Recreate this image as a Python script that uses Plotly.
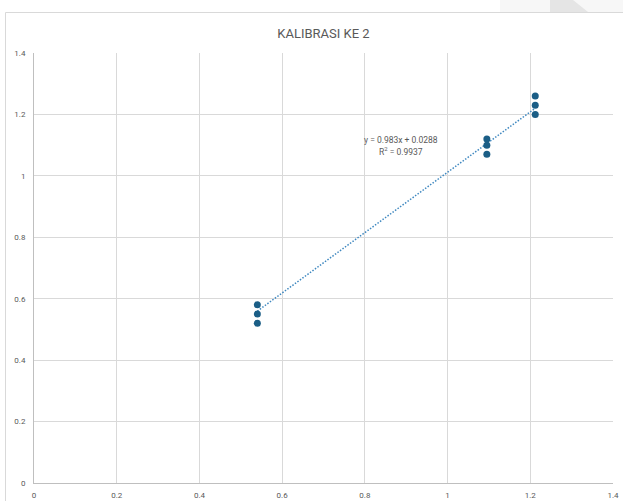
import plotly.graph_objects as go

# Data
x_vals = [0.54, 0.54, 0.54, 1.095, 1.095, 1.095, 1.212, 1.212, 1.212]
y_vals = [0.58, 0.55, 0.52, 1.12, 1.10, 1.07, 1.26, 1.23, 1.20]
slope = 0.983
intercept = 0.0288
r2 = 0.9937
title_text = "KALIBRASI KE 2"

W, H = 623, 501
L, R, T, B = 34, 10, 53, 18
PW, PH = W - L - R, H - T - B

def px(xp):
    return (xp - L) / PW

def py(yp):
    return (H - B - yp) / PH

xmin, xmax = min(x_vals), max(x_vals)
trend_x = [xmin, xmax]
trend_y = [slope * v + intercept for v in trend_x]

grey = "#595959"
fig = go.Figure()
fig.add_trace(go.Scatter(x=trend_x, y=trend_y, mode="lines",
                         line=dict(color="#3f88c0", width=1.5, dash="1.5px,1.6px"),
                         hoverinfo="skip", showlegend=False))
fig.add_trace(go.Scatter(x=x_vals, y=y_vals, mode="markers",
                         marker=dict(color="#1b5e86", size=7),
                         showlegend=False))

fig.add_annotation(x=px(401), y=py(139.5), xref="paper", yref="paper",
                   xanchor="center", yanchor="middle",
                   text=f"y = {slope}x + {intercept}", showarrow=False,
                   font=dict(size=8.5, color=grey, family="Roboto"))
fig.add_annotation(x=px(401), y=py(151), xref="paper", yref="paper",
                   xanchor="center", yanchor="middle",
                   text=f"R<sup>2</sup> = {r2}", showarrow=False,
                   font=dict(size=8.5, color=grey, family="Roboto"))

shapes = [
    # outer chart frame
    dict(type="rect", xref="paper", yref="paper",
         x0=px(5.5), x1=px(640), y0=py(520), y1=py(12.5),
         line=dict(color="#d9d9d9", width=1), fillcolor="rgba(0,0,0,0)", layer="below"),
    # page background artifact top-right
    dict(type="rect", xref="paper", yref="paper",
         x0=px(500), x1=px(623), y0=py(12), y1=py(0),
         line=dict(width=0), fillcolor="#f7f7f7", layer="below"),
    dict(type="path", xref="paper", yref="paper",
         path=f"M {px(550)},{py(0)} L {px(573)},{py(0)} L {px(588)},{py(12)} L {px(550)},{py(12)} Z",
         line=dict(width=0), fillcolor="#e5e5e5", layer="below"),
]

fig.update_layout(
    width=W, height=H,
    margin=dict(l=L, r=R, t=T, b=B, autoexpand=False),
    paper_bgcolor="white", plot_bgcolor="white",
    shapes=shapes,
    title=dict(text=title_text, x=0.5, xref="paper", y=1 - 33 / H, yanchor="middle",
               font=dict(size=13, color=grey, family="Roboto")),
    font=dict(family="Roboto", color=grey, size=8),
    xaxis=dict(range=[0, 1.4], dtick=0.2, tick0=0, showgrid=True, gridcolor="#d9d9d9",
               gridwidth=1, zeroline=False, showline=True, linecolor="#bfbfbf",
               automargin=False,
               ticks="", ticklabelstandoff=4, tickfont=dict(size=8, color=grey)),
    yaxis=dict(range=[0, 1.4], dtick=0.2, tick0=0, showgrid=True, gridcolor="#d9d9d9",
               gridwidth=1, zeroline=False, showline=True, linecolor="#bfbfbf",
               automargin=False,
               ticks="", ticklabelstandoff=6, tickfont=dict(size=8, color=grey)),
)

fig.write_html("out.html", config={"displayModeBar": False},
               post_script="document.body.style.margin='0';document.body.style.overflow='hidden';")
